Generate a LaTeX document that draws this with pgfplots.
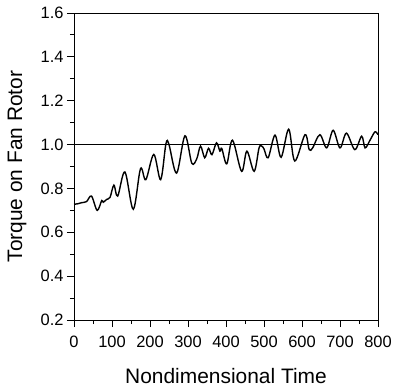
\documentclass[border=0pt]{standalone}
\usepackage{pgfplots}
\pgfplotsset{compat=1.18}
\usepackage{fontspec}
\setmainfont{Liberation Sans}
\begin{document}
\begin{tikzpicture}
\useasboundingbox (-74bp,-68bp) rectangle (319bp,320bp);
\begin{axis}[
  scale only axis,
  width=304bp, height=307bp,
  at={(0,0)}, anchor=south west,
  xmin=0, xmax=800, ymin=0.2, ymax=1.6,
  xtick={0,100,...,800},
  ytick={0.2,0.4,...,1.6},
  minor x tick num=1,
  minor y tick num=1,
  tick pos=left,
  tick align=outside,
  major tick length=7bp,
  minor tick length=4bp,
  axis line style={line width=0.9bp},
  every tick/.style={line width=0.9bp, black},
  /pgf/number format/assume math mode=true,
  /pgf/number format/fixed,
  /pgf/number format/fixed zerofill,
  /pgf/number format/precision=1,
  xticklabel style={/pgf/number format/precision=0, /pgf/number format/fixed zerofill=false, yshift=-6bp},
  ticklabel style={font=\fontsize{16.5}{16.5}\selectfont},
  xlabel={Nondimensional Time},
  ylabel={Torque on Fan Rotor},
  label style={font=\fontsize{21}{21}\selectfont},
  xlabel style={at={(axis description cs:0.5,-0.181)}, anchor=center},
  ylabel style={at={(axis description cs:-0.187,0.5)}, anchor=center},
]
\addplot[black, line width=0.9bp, forget plot] coordinates {(0,1.0) (800,1.0)};
\addplot[black, line width=1.4bp, smooth, tension=0.55] coordinates {
(0,0.728) (10,0.73) (20,0.735) (33,0.74) (46,0.765) (61,0.70) (73,0.745)
(77,0.737) (86,0.75) (95,0.76) (105,0.815) (115,0.765) (134,0.875)
(156,0.705) (175,0.89) (189,0.84) (210,0.955) (228,0.84) (242,1.004)
(250,1.0) (270,0.87) (292,1.04) (310,0.915) (323,0.935) (333,0.993)
(344,0.94) (354,0.983) (363,0.954) (375,1.008) (384,0.97) (389,0.982)
(402,0.912) (417,1.02) (441,0.878) (455,0.97) (474,0.878) (487,0.985)
(494,0.993) (500,0.98) (511,0.94) (529,1.043) (545,0.942) (565,1.07)
(581,0.925) (608,1.045) (619,0.977) (628,0.985) (647,1.045) (665,0.985)
(682,1.065) (700,0.985) (717,1.052) (739,0.977) (757,1.038) (766,0.985)
(779,1.02) (792,1.058) (800,1.045)
};
\end{axis}
\end{tikzpicture}
\end{document}
